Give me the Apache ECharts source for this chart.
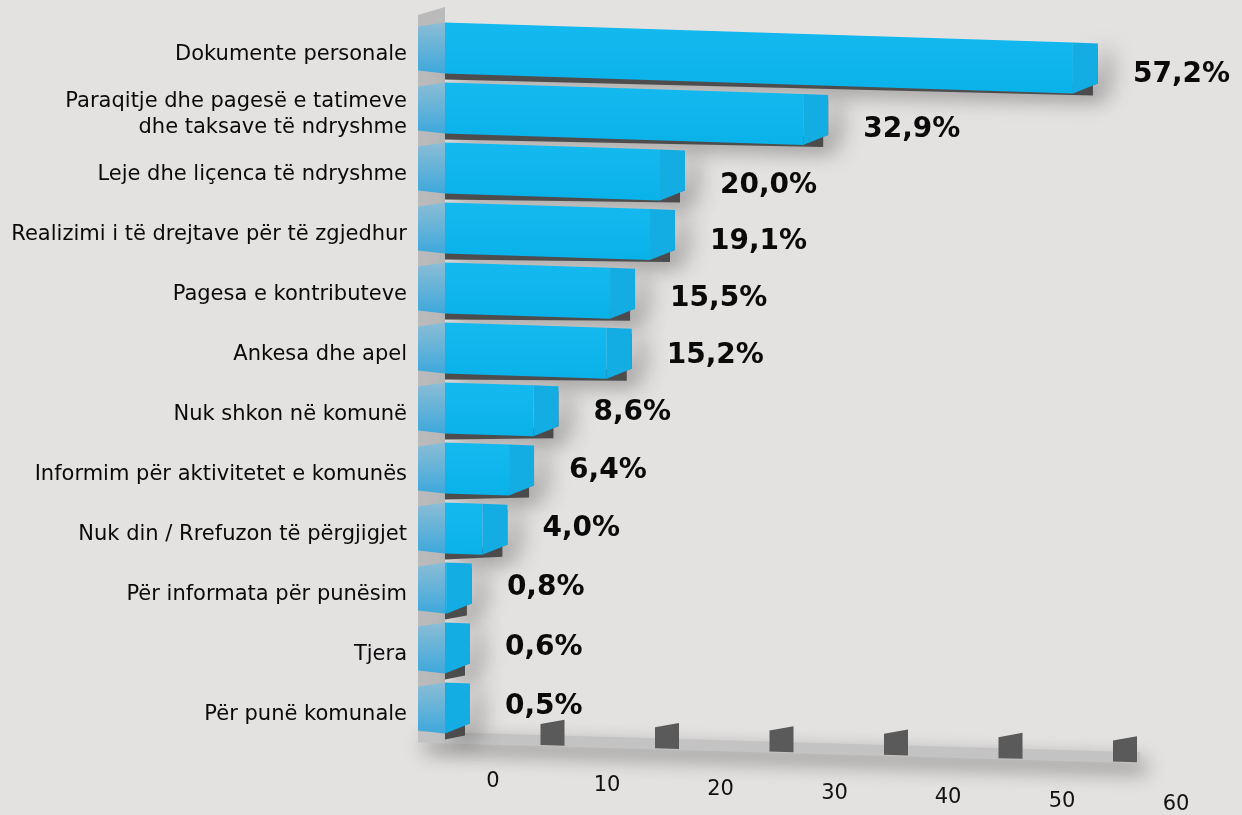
<!DOCTYPE html>
<html><head><meta charset="utf-8">
<script src="https://cdn.jsdelivr.net/npm/echarts@6.0.0/dist/echarts.min.js"></script>
<style>html,body{margin:0;padding:0;background:#e4e2e1;}#chart{width:1242px;height:815px;}</style>
</head><body><div id="chart"></div>
<script>
const categories = [
  'Dokumente personale',
  'Paraqitje dhe pagesë e tatimeve\ndhe taksave të ndryshme',
  'Leje dhe liçenca të ndryshme',
  'Realizimi i të drejtave për të zgjedhur',
  'Pagesa e kontributeve',
  'Ankesa dhe apel',
  'Nuk shkon në komunë',
  'Informim për aktivitetet e komunës',
  'Nuk din / Rrefuzon të përgjigjet',
  'Për informata për punësim',
  'Tjera',
  'Për punë komunale'
];
const values = [57.2, 32.9, 20.0, 19.1, 15.5, 15.2, 8.6, 6.4, 4.0, 0.8, 0.6, 0.5];
const xTicks = [0, 10, 20, 30, 40, 50, 60];

const K = 0.032;    // perspective slope
const D = 25;       // depth of the 3D end cap
const SIDE = 20;    // width of the left side face
const LIFT = 7;     // bars sit slightly above the label line
const FONT = '"DejaVu Sans", Verdana, sans-serif';
const N = categories.length;

function fmt(v) { return v.toFixed(1).replace('.', ',') + '%'; }

const chart = echarts.init(document.getElementById('chart'));

function renderBar(params, api) {
  const v = api.value(0), idx = api.value(1);
  const s = api.coord([0, idx]);
  const e = api.coord([v, idx]);
  const band = api.size([0, 1])[1];
  const h = band * 0.85;
  const c = s[1];
  const cy = c - LIFT;
  const sx = s[0] + 7;
  const ex = Math.max(e[0], sx);
  const yt = x => cy - h / 2 + K * (x - sx);
  const yb = x => cy + h / 2 + K * (x - sx);
  const lx = ex + D + 35;
  const t = (N - 1 - idx) / (N - 1);
  const ly = c - 8 + 28 * t * t;
  const children = [
    { type: 'polygon', shape: { points: [[sx, yb(sx) - 3], [ex + D * 0.8, yb(ex) - 9], [ex + D * 0.8, yb(ex) + 2], [sx, yb(sx) + 6]] },
      style: { fill: '#4d4d4d', shadowBlur: 22, shadowColor: 'rgba(0,0,0,0.6)', shadowOffsetX: 10, shadowOffsetY: 2 } },
    { type: 'polygon', shape: { points: [[ex + D - 6, yt(ex) + 6], [ex + D, yt(ex) + 6], [ex + D, yb(ex) - 10], [ex + D - 6, yb(ex) - 8]] },
      style: { fill: '#555', shadowBlur: 22, shadowColor: 'rgba(0,0,0,0.65)', shadowOffsetX: 10, shadowOffsetY: 4 } },
    { type: 'polygon', shape: { points: [[sx - SIDE - 7, yt(sx) + 4], [sx, yt(sx)], [sx, yb(sx)], [sx - SIDE - 7, yb(sx) - 3]] },
      style: { fill: new echarts.graphic.LinearGradient(0, 0, 0, 1, [{ offset: 0, color: '#8bbdd5' }, { offset: 1, color: '#3ea8dc' }]) } },
    { type: 'polygon', shape: { points: [[sx, yt(sx)], [ex, yt(ex)], [ex, yb(ex)], [sx, yb(sx)]] },
      style: { fill: new echarts.graphic.LinearGradient(0, 0, 0, 1, [{ offset: 0, color: '#14b9ef' }, { offset: 1, color: '#0ab2ea' }]) } },
    { type: 'polygon', shape: { points: [[ex, yt(ex)], [ex + D, yt(ex) + 1], [ex + D, yb(ex) - 10], [ex, yb(ex)]] },
      style: { fill: '#13ade3' } },
    { type: 'text', style: { x: lx, y: ly, text: fmt(v), font: 'bold 28px ' + FONT, fill: '#0a0a0a', align: 'left', verticalAlign: 'middle' } }
  ];
  return { type: 'group', children };
}

function renderFloor(params, api) {
  const cs = params.coordSys;
  const base = cs.y + cs.height - LIFT;
  const X0 = cs.x;
  const wl = cs.x - SIDE, wr = cs.x + 7;
  const x1 = wl, x2 = cs.x + cs.width + 36;
  const f = x => base + K * (x - X0) * 0.9;
  const children = [
    { type: 'polygon', shape: { points: [[wl, cs.y - LIFT - 3], [wr, cs.y - LIFT - 11], [wr, base], [wl, base]] },
      style: { fill: '#bababa' } },
    { type: 'polygon', shape: { points: [[x1, f(x1) - 6], [x2, f(x2) - 6], [x2, f(x2) + 5], [x1, f(x1) + 5]] },
      style: { fill: '#c3c3c3', shadowBlur: 20, shadowColor: 'rgba(0,0,0,0.45)', shadowOffsetY: 9, shadowOffsetX: 6 } }
  ];
  xTicks.forEach(t => {
    if (t === 0) return;
    const tx = api.coord([t, 0])[0] + 0.35 * t;
    const a = tx - 12, b = tx + 12;
    children.push({ type: 'polygon', shape: { points: [[a, f(a) + 4], [a, f(a) - 17], [b, f(b) - 22], [b, f(b) + 4]] },
      style: { fill: '#5a5a5a' } });
  });
  return { type: 'group', children };
}

const rich = {};
xTicks.forEach((t, i) => {
  rich['t' + i] = { fontSize: 21, fontFamily: FONT, color: '#111', padding: [Math.round(i * 3.9), 0, 0, Math.round(2 * (55 + 2.8 * i))] };
});

chart.setOption({
  backgroundColor: '#e4e2e1',
  animation: false,
  grid: { left: 438, top: 25, width: 666, height: 720, containLabel: false, outerBoundsMode: 'none' },
  xAxis: {
    type: 'value', min: 0, max: 60, interval: 10,
    axisLine: { show: false }, axisTick: { show: false }, splitLine: { show: false },
    axisLabel: {
      margin: 26, showMinLabel: true, showMaxLabel: true, hideOverlap: false,
      formatter: v => '{t' + xTicks.indexOf(v) + '|' + v + '}', rich
    }
  },
  yAxis: {
    type: 'category', data: categories, inverse: true,
    axisTick: { show: false },
    axisLine: { show: false },
    axisLabel: { margin: 31, fontSize: 21, fontFamily: FONT, color: '#0a0a0a', lineHeight: 26, align: 'right' }
  },
  series: [
    { type: 'custom', renderItem: renderFloor, data: [[0, 0]], encode: { x: 0, y: 1 }, z: 1, silent: true },
    { type: 'custom', renderItem: renderBar, data: values.map((v, i) => [v, i]), encode: { x: 0, y: 1 }, z: 2 }
  ]
});
</script></body></html>
